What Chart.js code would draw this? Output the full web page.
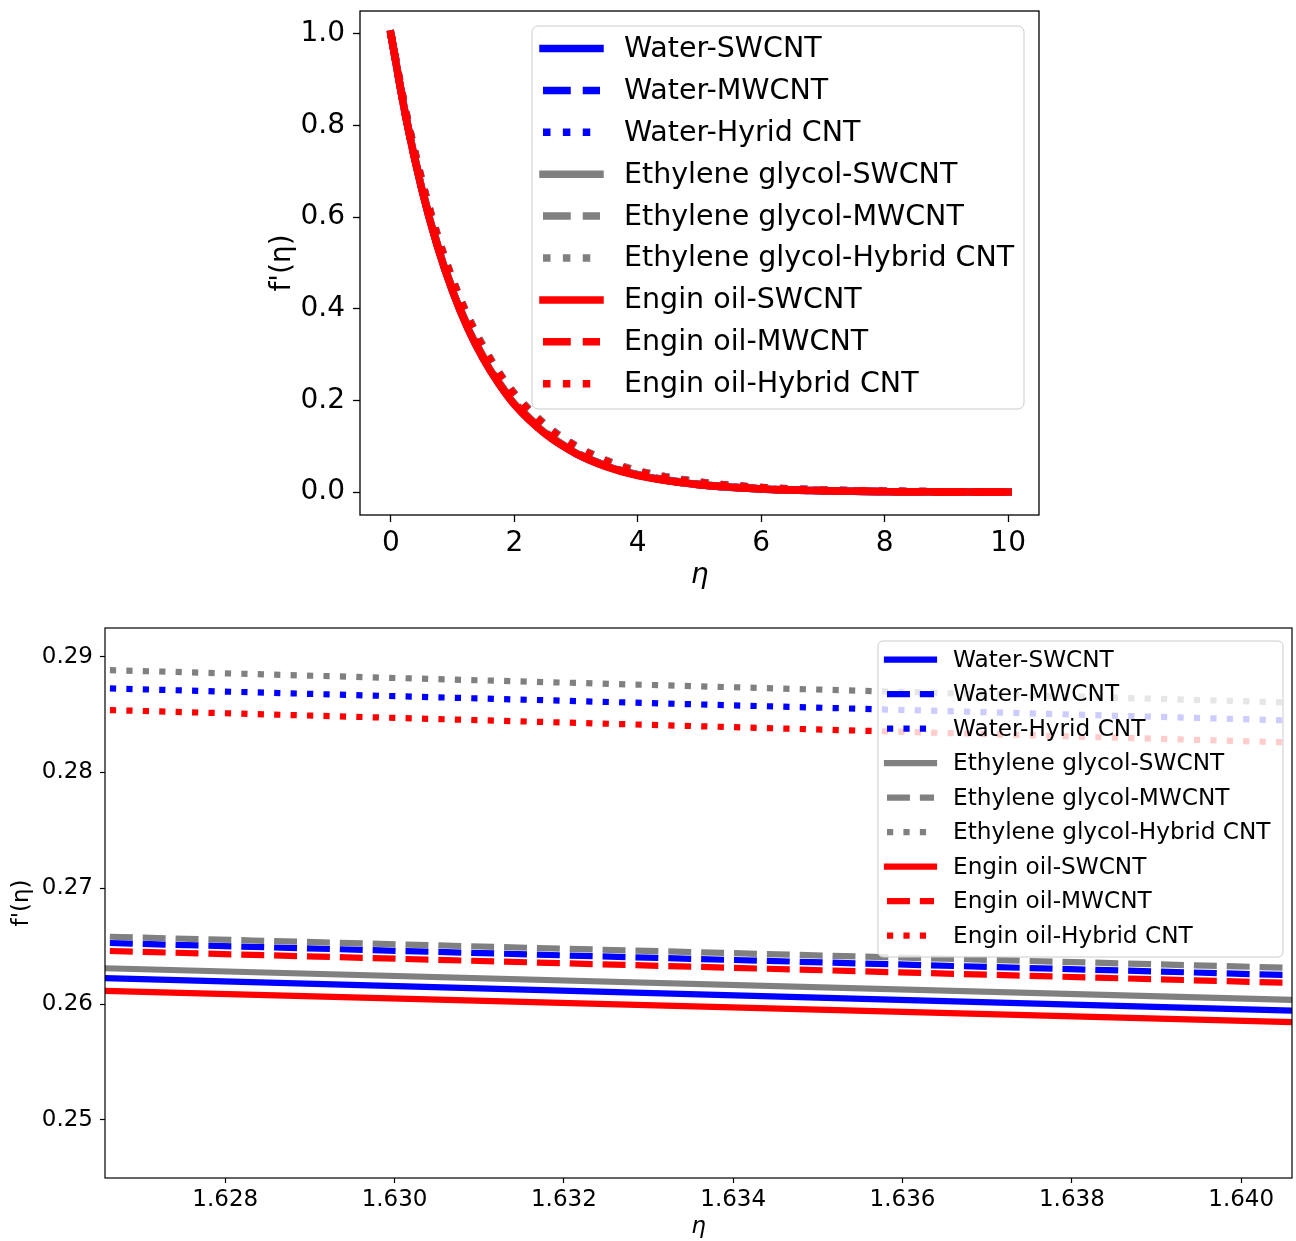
<!DOCTYPE html>
<html>
<head>
<meta charset="utf-8">
<script src="https://cdn.jsdelivr.net/npm/chart.js@4.4.1/dist/chart.umd.min.js"></script>
<style>
  body { margin: 0; background: #fff; overflow: hidden; }
  .box { position: absolute; left: 0; width: 1296px; }
  #topBox { top: -20px; height: 620px; }
  #bottomBox { top: 600px; height: 641px; }
</style>
</head>
<body>
<div class="box" id="topBox"><canvas id="graficoTopo"></canvas></div>
<div class="box" id="bottomBox"><canvas id="graficoZoom"></canvas></div>
<script>
// series names, colours and line styles (same order in both panels)
const nomes = [
    'Water-SWCNT', 'Water-MWCNT', 'Water-Hyrid CNT',
    'Ethylene glycol-SWCNT', 'Ethylene glycol-MWCNT', 'Ethylene glycol-Hybrid CNT',
    'Engin oil-SWCNT', 'Engin oil-MWCNT', 'Engin oil-Hybrid CNT'
];
const cores = ['#0000ff', '#0000ff', '#0000ff', '#808080', '#808080', '#808080', '#ff0000', '#ff0000', '#ff0000'];
const estilos = ['solid', 'dashed', 'dotted', 'solid', 'dashed', 'dotted', 'solid', 'dashed', 'dotted'];

// top panel: f'(eta) over 0..10
const etaTopo = [0, 0.25, 0.5, 0.75, 1, 1.25, 1.5, 1.75, 2, 2.5, 3, 3.5, 4, 5, 6, 7, 8, 10];
const waterSTopo = [1, 0.814, 0.662, 0.539, 0.439, 0.357, 0.291, 0.237, 0.192, 0.128, 0.084, 0.056, 0.037, 0.016, 0.007, 0.003, 0.001, 0];
const waterMTopo = [1, 0.815, 0.665, 0.542, 0.442, 0.360, 0.294, 0.239, 0.195, 0.130, 0.086, 0.057, 0.038, 0.017, 0.007, 0.003, 0.001, 0];
const waterHTopo = [1, 0.825, 0.681, 0.562, 0.464, 0.383, 0.316, 0.261, 0.215, 0.147, 0.100, 0.068, 0.046, 0.022, 0.010, 0.005, 0.002, 0];
const egSTopo = [1, 0.815, 0.663, 0.540, 0.440, 0.358, 0.292, 0.238, 0.193, 0.129, 0.085, 0.056, 0.037, 0.016, 0.007, 0.003, 0.001, 0];
const egMTopo = [1, 0.816, 0.666, 0.543, 0.443, 0.361, 0.295, 0.240, 0.196, 0.131, 0.086, 0.057, 0.038, 0.017, 0.007, 0.003, 0.001, 0];
const egHTopo = [1, 0.826, 0.682, 0.563, 0.465, 0.384, 0.318, 0.262, 0.216, 0.148, 0.101, 0.069, 0.047, 0.022, 0.010, 0.005, 0.002, 0];
const eoSTopo = [1, 0.813, 0.661, 0.538, 0.438, 0.356, 0.290, 0.236, 0.191, 0.127, 0.084, 0.055, 0.036, 0.016, 0.007, 0.003, 0.001, 0];
const eoMTopo = [1, 0.814, 0.664, 0.541, 0.441, 0.359, 0.293, 0.238, 0.194, 0.129, 0.085, 0.056, 0.037, 0.016, 0.007, 0.003, 0.001, 0];
const eoHTopo = [1, 0.824, 0.679, 0.560, 0.462, 0.381, 0.314, 0.259, 0.213, 0.145, 0.099, 0.067, 0.045, 0.021, 0.010, 0.004, 0.002, 0];

const xTicksTopo = [0, 2, 4, 6, 8, 10];
const xLabelsTopo = ['0', '2', '4', '6', '8', '10'];
const yTicksTopo = [0, 0.2, 0.4, 0.6, 0.8, 1.0];
const yLabelsTopo = ['0.0', '0.2', '0.4', '0.6', '0.8', '1.0'];

// bottom panel: zoom around eta = 1.63
const etaZoom = [1.62658, 1.6406];
const waterSZoom = [0.26223, 0.25943];
const waterMZoom = [0.26528, 0.26249];
const waterHZoom = [0.28727, 0.28449];
const egSZoom = [0.26309, 0.26035];
const egMZoom = [0.26582, 0.26312];
const egHZoom = [0.28885, 0.28604];
const eoSZoom = [0.26113, 0.25843];
const eoMZoom = [0.26459, 0.26182];
const eoHZoom = [0.28540, 0.28259];

const xTicksZoom = [1.628, 1.630, 1.632, 1.634, 1.636, 1.638, 1.640];
const xLabelsZoom = ['1.628', '1.630', '1.632', '1.634', '1.636', '1.638', '1.640'];
const yTicksZoom = [0.25, 0.26, 0.27, 0.28, 0.29];
const yLabelsZoom = ['0.25', '0.26', '0.27', '0.28', '0.29'];

Chart.defaults.font.family = "'DejaVu Sans', sans-serif";
Chart.defaults.color = '#000';

function montaDatasets(xs, series, lw, dashOff) {
    return series.map((ys, i) => {
        const estilo = estilos[i];
        let dash = [];
        if (estilo === 'dashed') dash = [3.7 * lw, 1.6 * lw];
        if (estilo === 'dotted') dash = [lw, 1.65 * lw];
        return {
            label: nomes[i],
            data: xs.map((x, j) => ({ x: x, y: ys[j] })),
            borderColor: cores[i],
            backgroundColor: cores[i],
            borderWidth: lw,
            borderDash: dash,
            borderDashOffset: estilo === 'dashed' ? dashOff.dashed : (estilo === 'dotted' ? dashOff.dotted : 0),
            borderCapStyle: estilo === 'solid' ? 'square' : 'butt',
            pointRadius: 0,
            fill: false,
            cubicInterpolationMode: 'monotone',
            order: series.length - i,
            clip: 0
        };
    });
}

// frame around the plot + legend drawn inside the axes (matplotlib style)
function legendaInterna(cfg) {
    return {
        id: 'legendaInterna',
        afterDatasetsDraw(chart) {
            const ctx = chart.ctx;
            const a = chart.chartArea;
            ctx.save();
            ctx.strokeStyle = '#000';
            ctx.lineWidth = cfg.frame;
            ctx.strokeRect(a.left, a.top, a.right - a.left, a.bottom - a.top);

            const b = cfg.box;
            ctx.beginPath();
            ctx.moveTo(b.x + b.r, b.y);
            ctx.arcTo(b.x + b.w, b.y, b.x + b.w, b.y + b.h, b.r);
            ctx.arcTo(b.x + b.w, b.y + b.h, b.x, b.y + b.h, b.r);
            ctx.arcTo(b.x, b.y + b.h, b.x, b.y, b.r);
            ctx.arcTo(b.x, b.y, b.x + b.w, b.y, b.r);
            ctx.closePath();
            ctx.fillStyle = 'rgba(255,255,255,0.8)';
            ctx.fill();
            ctx.strokeStyle = '#cccccc';
            ctx.lineWidth = 1;
            ctx.stroke();

            ctx.font = cfg.fontSize + "px 'DejaVu Sans', sans-serif";
            ctx.textBaseline = 'middle';
            ctx.textAlign = 'left';
            chart.data.datasets.forEach((ds, i) => {
                const y = cfg.row0 + i * cfg.rowStep;
                ctx.beginPath();
                ctx.setLineDash(ds.borderDash);
                ctx.lineDashOffset = 0;
                ctx.lineCap = ds.borderCapStyle;
                ctx.strokeStyle = ds.borderColor;
                ctx.lineWidth = ds.borderWidth;
                ctx.moveTo(cfg.lineX0, y);
                ctx.lineTo(cfg.lineX1, y);
                ctx.stroke();
                ctx.setLineDash([]);
                ctx.fillStyle = '#000';
                ctx.fillText(ds.label, cfg.textX, y + 1);
            });
            ctx.restore();
        }
    };
}

function eixo(opts) {
    return {
        type: 'linear',
        min: opts.min,
        max: opts.max,
        afterFit: (s) => { if (s.isHorizontal()) s.height = opts.size; else s.width = opts.size; },
        afterBuildTicks: (s) => { s.ticks = opts.ticks.map(v => ({ value: v })); },
        grid: {
            drawOnChartArea: false,
            drawTicks: true,
            tickLength: opts.tickLength,
            tickColor: '#000',
            tickWidth: opts.tickWidth,
            color: '#000'
        },
        border: { display: false },
        ticks: {
            autoSkip: false,
            maxRotation: 0,
            padding: opts.pad,
            color: '#000',
            font: { size: opts.font },
            callback: (v, i) => opts.labels[i]
        },
        title: {
            display: true,
            text: opts.title,
            color: '#000',
            font: { size: opts.font, style: opts.italic ? 'italic' : 'normal' },
            padding: opts.titlePad
        }
    };
}

document.addEventListener('DOMContentLoaded', () => {
    const ctxTopo = document.getElementById('graficoTopo').getContext('2d');
    window.graficoTopo = new Chart(ctxTopo, {
        type: 'line',
        data: {
            datasets: montaDatasets(etaTopo,
                [waterSTopo, waterMTopo, waterHTopo, egSTopo, egMTopo, egHTopo, eoSTopo, eoMTopo, eoHTopo],
                7.5, { dashed: 0, dotted: 0 })
        },
        options: {
            responsive: true,
            maintainAspectRatio: false,
            animation: false,
            layout: { autoPadding: false, padding: { left: 250, right: 257, top: 31, bottom: 0 } },
            scales: {
                x: eixo({ min: -0.5, max: 10.5, size: 85, ticks: xTicksTopo, labels: xLabelsTopo,
                    tickLength: 7, tickWidth: 1.3, pad: 5, font: 28, title: 'η', italic: true,
                    titlePad: { top: 0, bottom: 7 } }),
                y: eixo({ min: -0.05, max: 1.05, size: 110, ticks: yTicksTopo, labels: yLabelsTopo,
                    tickLength: 7, tickWidth: 1.3, pad: 8, font: 28, title: "f'(η)",
                    titlePad: { top: 16, bottom: 0 } })
            },
            plugins: { legend: { display: false }, tooltip: { enabled: false } }
        },
        plugins: [legendaInterna({
            frame: 1.3, fontSize: 28.5,
            box: { x: 532, y: 46, w: 492, h: 383, r: 6 },
            row0: 68.5, rowStep: 41.9, lineX0: 543, lineX1: 600, textX: 624
        })]
    });

    const ctxZoom = document.getElementById('graficoZoom').getContext('2d');
    window.graficoZoom = new Chart(ctxZoom, {
        type: 'line',
        data: {
            datasets: montaDatasets(etaZoom,
                [waterSZoom, waterMZoom, waterHZoom, egSZoom, egMZoom, egHZoom, eoSZoom, eoMZoom, eoHZoom],
                6.2, { dashed: 28, dotted: 11.5 })
        },
        options: {
            responsive: true,
            maintainAspectRatio: false,
            animation: false,
            layout: { autoPadding: false, padding: { left: 0, right: 4, top: 28, bottom: 0 } },
            scales: {
                x: eixo({ min: 1.62658, max: 1.6406, size: 63, ticks: xTicksZoom, labels: xLabelsZoom,
                    tickLength: 5, tickWidth: 1.2, pad: 3, font: 23, title: 'η', italic: true,
                    titlePad: { top: 0, bottom: 0 } }),
                y: eixo({ min: 0.24497, max: 0.29248, size: 105, ticks: yTicksZoom, labels: yLabelsZoom,
                    tickLength: 5, tickWidth: 1.2, pad: 7, font: 23, title: "f'(η)",
                    titlePad: { top: 8, bottom: 0 } })
            },
            plugins: { legend: { display: false }, tooltip: { enabled: false } }
        },
        plugins: [legendaInterna({
            frame: 1.2, fontSize: 23.2,
            box: { x: 878, y: 41, w: 405, h: 316, r: 5 },
            row0: 59.7, rowStep: 34.5, lineX0: 887, lineX1: 934, textX: 953
        })]
    });
});
</script>
</body>
</html>
